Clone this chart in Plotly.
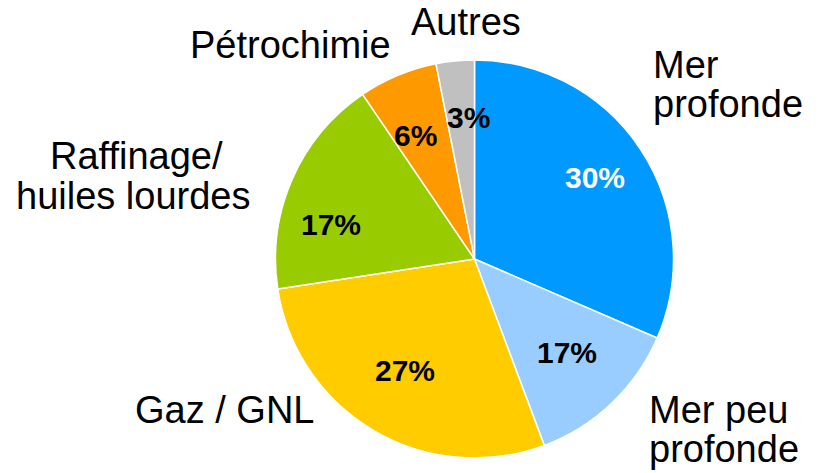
import math
import plotly.graph_objects as go

# ---- data ----
categories = ["Mer profonde", "Mer peu profonde", "Gaz / GNL",
              "Raffinage/ huiles lourdes", "Pétrochimie", "Autres"]
values = [31.5, 12.8, 28.3, 17.9, 6.4, 3.1]
pct_labels = ["30%", "17%", "27%", "17%", "6%", "3%"]
colors = ["#0099FF", "#99CCFF", "#FFCC00", "#99CC00", "#FF9900", "#C0C0C0"]
pct_colors = ["white", "black", "black", "black", "black", "black"]

# ---- layout constants (pixels) ----
W, H = 818, 473
cx, cy, r = 474.5, 259.0, 199.0
FONT = "Liberation Sans, Arial, sans-serif"

# label placement style: radius fraction and angle offset (degrees)
rad_frac = [0.73, 0.66, 0.66, 0.74, 0.69, 0.71]
ang_off = [-0.9, -1.2, 1.6, -10.2, -2.9, 3.0]

def px(x):
    return x / W

def py(y):
    return 1 - y / H

fig = go.Figure(go.Pie(
    labels=categories,
    values=values,
    sort=False,
    direction="clockwise",
    rotation=0,
    marker=dict(colors=colors, line=dict(color="white", width=1.5)),
    textinfo="none",
    hoverinfo="label+percent",
    showlegend=False,
    domain=dict(x=[px(cx - r), px(cx + r)], y=[py(cy + r), py(cy - r)]),
))

annotations = []
total = sum(values)
cum = 0.0
for v, t, c, f, off in zip(values, pct_labels, pct_colors, rad_frac, ang_off):
    mid = (cum + v / 2) / total * 360 + off
    cum += v
    a = math.radians(mid)
    x = cx + f * r * math.sin(a)
    y = cy - f * r * math.cos(a)
    annotations.append(dict(
        x=px(x), y=py(y), xref="paper", yref="paper", text=f"<b>{t}</b>",
        showarrow=False, xanchor="center", yanchor="middle",
        font=dict(family=FONT, size=30, color=c)))

# outside category labels (one annotation per line)
outside = [
    ("Autres", 466, 22, "center"),
    ("Pétrochimie", 290, 45, "center"),
    ("Mer", 651, 65, "left"),
    ("profonde", 651, 104, "left"),
    ("Raffinage/", 136, 156, "center"),
    ("huiles lourdes", 133, 196, "center"),
    ("Gaz / GNL", 225, 410, "center"),
    ("Mer peu", 647, 410, "left"),
    ("profonde", 647, 449, "left"),
]
for t, x, y, anc in outside:
    annotations.append(dict(
        x=px(x), y=py(y), xref="paper", yref="paper", text=t,
        showarrow=False, xanchor=anc, yanchor="middle",
        font=dict(family=FONT, size=38, color="black")))

fig.update_layout(
    width=W, height=H,
    margin=dict(l=0, r=0, t=0, b=0),
    paper_bgcolor="white", plot_bgcolor="white",
    annotations=annotations,
)

fig.write_html(
    "out.html",
    config={"displayModeBar": False},
    post_script="document.body.style.margin='0';document.body.style.overflow='hidden';",
)
